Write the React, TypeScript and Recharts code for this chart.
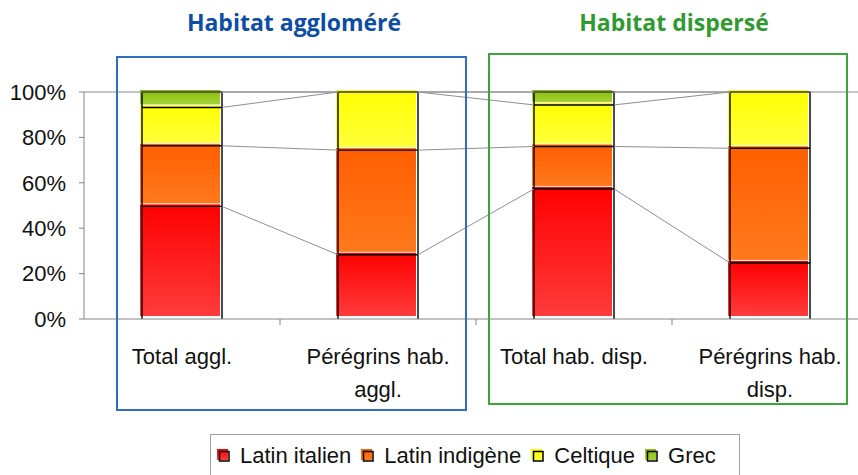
import React from "react";
import { BarChart, Bar, XAxis, YAxis, ReferenceLine } from "recharts";

const CATEGORIES = [
  "Total aggl.",
  "Pérégrins hab. aggl.",
  "Total hab. disp.",
  "Pérégrins hab. disp.",
];
const TICK_LINES = [
  ["Total aggl."],
  ["Pérégrins hab.", "aggl."],
  ["Total hab. disp."],
  ["Pérégrins hab.", "disp."],
];
const LATIN_ITALIEN = [49.6, 28.3, 57.3, 24.7];
const LATIN_INDIGENE = [26.7, 46.1, 18.7, 50.5];
const CELTIQUE = [16.9, 25.6, 18.3, 24.8];
const GREC = [6.8, 0, 5.7, 0];
const Y_TICKS = [0, 20, 40, 60, 80, 100];
const GROUP_TITLES = ["Habitat aggloméré", "Habitat dispersé"];

const SERIES = [
  { key: "italien", name: "Latin italien", values: LATIN_ITALIEN, top: "#ff0000", bottom: "#ff3b3b" },
  { key: "indigene", name: "Latin indigène", values: LATIN_INDIGENE, top: "#ff5e00", bottom: "#ff7a1c" },
  { key: "celtique", name: "Celtique", values: CELTIQUE, top: "#ffff00", bottom: "#ffff3a" },
  { key: "grec", name: "Grec", values: GREC, top: "#88c000", bottom: "#a4d23a" },
];

const FONT = "Arial, 'Liberation Sans', sans-serif";
const GAP = 0.296; // gap each side of a bar, as share of the category
const HALF = 0.5 - GAP;
const AXIS_GREY = "#858585";

const data = CATEGORIES.map((name, i) => {
  const row: Record<string, string | number> = { name };
  SERIES.forEach((s) => (row[s.key] = s.values[i]));
  return row;
});

// cumulative top of each series per category, for the series lines
const tops = SERIES.map((_, si) =>
  CATEGORIES.map((_, ci) =>
    SERIES.slice(0, si + 1).reduce((acc, s) => acc + s.values[ci], 0)
  )
);

function SegmentShape(props: any) {
  const { x, y, width, height, gradId } = props;
  if (!height || height <= 0.5) return <g />;
  return (
    <g>
      <rect x={x - 2} y={y - 2} width={width} height={Math.max(height - 1, 0)} fill={`url(#${gradId})`} />
      <path
        d={`M${x},${y + height}V${y}H${x + width}V${y + height}`}
        fill="none"
        stroke="#000"
        strokeWidth={1.4}
      />
    </g>
  );
}

// series line: from the right edge of one bar to the left edge of the next
function SeriesLine(props: any) {
  const { x1, y1, x2, y2 } = props;
  const step = x2 - x1;
  return (
    <line
      x1={x1 + step * HALF}
      y1={y1}
      x2={x2 - step * HALF}
      y2={y2}
      stroke="#8f8f8f"
      strokeWidth={1}
    />
  );
}

// tick mark on the category boundary, halfway between two centres
function BoundaryTick(props: any) {
  const { x1, y1, x2 } = props;
  const mx = (x1 + x2) / 2;
  return <line x1={mx} y1={y1} x2={mx} y2={y1 + 6} stroke={AXIS_GREY} strokeWidth={1} />;
}

function CategoryTick(props: any) {
  const { x, y, index } = props;
  const lines = TICK_LINES[index] || [];
  return (
    <text
      x={x}
      y={y}
      textAnchor="middle"
      fill="#111"
      style={{ fontSize: 22, fontFamily: FONT }}
    >
      {lines.map((l, i) => (
        <tspan key={i} x={x} y={y + 43 + i * 33}>
          {l}
        </tspan>
      ))}
    </text>
  );
}

function LegendMarker({ id }: { id: string }) {
  return (
    <svg width={14} height={14} style={{ display: "block" }}>
      <rect x={0} y={0} width={11} height={11} fill={`url(#${id})`} />
      <rect x={2.5} y={2.5} width={9.5} height={9.5} fill="none" stroke="#000" strokeWidth={1.5} />
    </svg>
  );
}

export default function App() {
  return (
    <div
      style={{
        position: "absolute",
        left: 0,
        top: 0,
        width: 858,
        height: 475,
        overflow: "hidden",
        background: "#fff",
        fontFamily: FONT,
      }}
    >
      <svg width={0} height={0} style={{ position: "absolute" }}>
        <defs>
          {SERIES.map((s) => (
            <linearGradient key={s.key} id={`g-${s.key}`} x1="0" y1="0" x2="0" y2="1">
              <stop offset="0%" stopColor={s.top} />
              <stop offset="100%" stopColor={s.bottom} />
            </linearGradient>
          ))}
        </defs>
      </svg>

      <BarChart
        width={880}
        height={475}
        data={data}
        margin={{ top: 92, right: 12, left: 0, bottom: 56 }}
        barCategoryGap={`${GAP * 100}%`}
      >
        <XAxis
          dataKey="name"
          stroke={AXIS_GREY}
          tickLine={false}
          tickSize={0}
          interval={0}
          height={100}
          tick={<CategoryTick />}
        />
        <YAxis
          domain={[0, 100]}
          ticks={Y_TICKS}
          tickFormatter={(v) => `${v}%`}
          width={84}
          tickSize={5}
          tickMargin={13}
          stroke={AXIS_GREY}
          tick={{ fontSize: 22, fill: "#111", fontFamily: FONT }}
        />
        <ReferenceLine y={100} stroke="#8a8a8a" strokeWidth={1.2} />
        {CATEGORIES.slice(0, -1).map((c, ci) => (
          <ReferenceLine
            key={`b-${ci}`}
            segment={[
              { x: c, y: 0 },
              { x: CATEGORIES[ci + 1], y: 0 },
            ]}
            shape={<BoundaryTick />}
          />
        ))}
        {tops.map((t, si) =>
          t.slice(0, -1).map((v, ci) => (
            <ReferenceLine
              key={`${si}-${ci}`}
              segment={[
                { x: CATEGORIES[ci], y: v },
                { x: CATEGORIES[ci + 1], y: t[ci + 1] },
              ]}
              shape={<SeriesLine />}
            />
          ))
        )}
        {SERIES.map((s) => (
          <Bar
            key={s.key}
            dataKey={s.key}
            name={s.name}
            stackId="a"
            isAnimationActive={false}
            shape={(p: any) => <SegmentShape {...p} gradId={`g-${s.key}`} />}
          />
        ))}
      </BarChart>

      {/* group frames */}
      <div
        style={{
          position: "absolute",
          left: 116,
          top: 56,
          width: 351,
          height: 355,
          border: "2px solid #2e6dc4",
          boxSizing: "border-box",
        }}
      />
      <div
        style={{
          position: "absolute",
          left: 488,
          top: 53,
          width: 360,
          height: 352,
          border: "2px solid #3aa53a",
          boxSizing: "border-box",
        }}
      />
      <div
        style={{
          position: "absolute",
          left: 144,
          width: 300,
          top: 6,
          textAlign: "center",
          font: "bold 23px 'Open Sans', Lato, sans-serif",
          color: "#0c4ea6",
        }}
      >
        {GROUP_TITLES[0]}
      </div>
      <div
        style={{
          position: "absolute",
          left: 524,
          width: 300,
          top: 6,
          textAlign: "center",
          font: "bold 23px 'Open Sans', Lato, sans-serif",
          color: "#2f9a2f",
        }}
      >
        {GROUP_TITLES[1]}
      </div>

      {/* legend */}
      <div
        style={{
          position: "absolute",
          left: 210,
          top: 434,
          width: 530,
          height: 60,
          border: "1px solid #a0a0a0",
          boxSizing: "border-box",
          display: "flex",
          alignItems: "flex-start",
          paddingLeft: 6,
          paddingTop: 10,
          gap: 10,
          fontSize: 22,
          color: "#111",
          lineHeight: "22px",
        }}
      >
        {SERIES.map((s) => (
          <div key={s.key} style={{ display: "flex", alignItems: "center", gap: 9 }}>
            <LegendMarker id={`g-${s.key}`} />
            <span>{s.name}</span>
          </div>
        ))}
      </div>
    </div>
  );
}
